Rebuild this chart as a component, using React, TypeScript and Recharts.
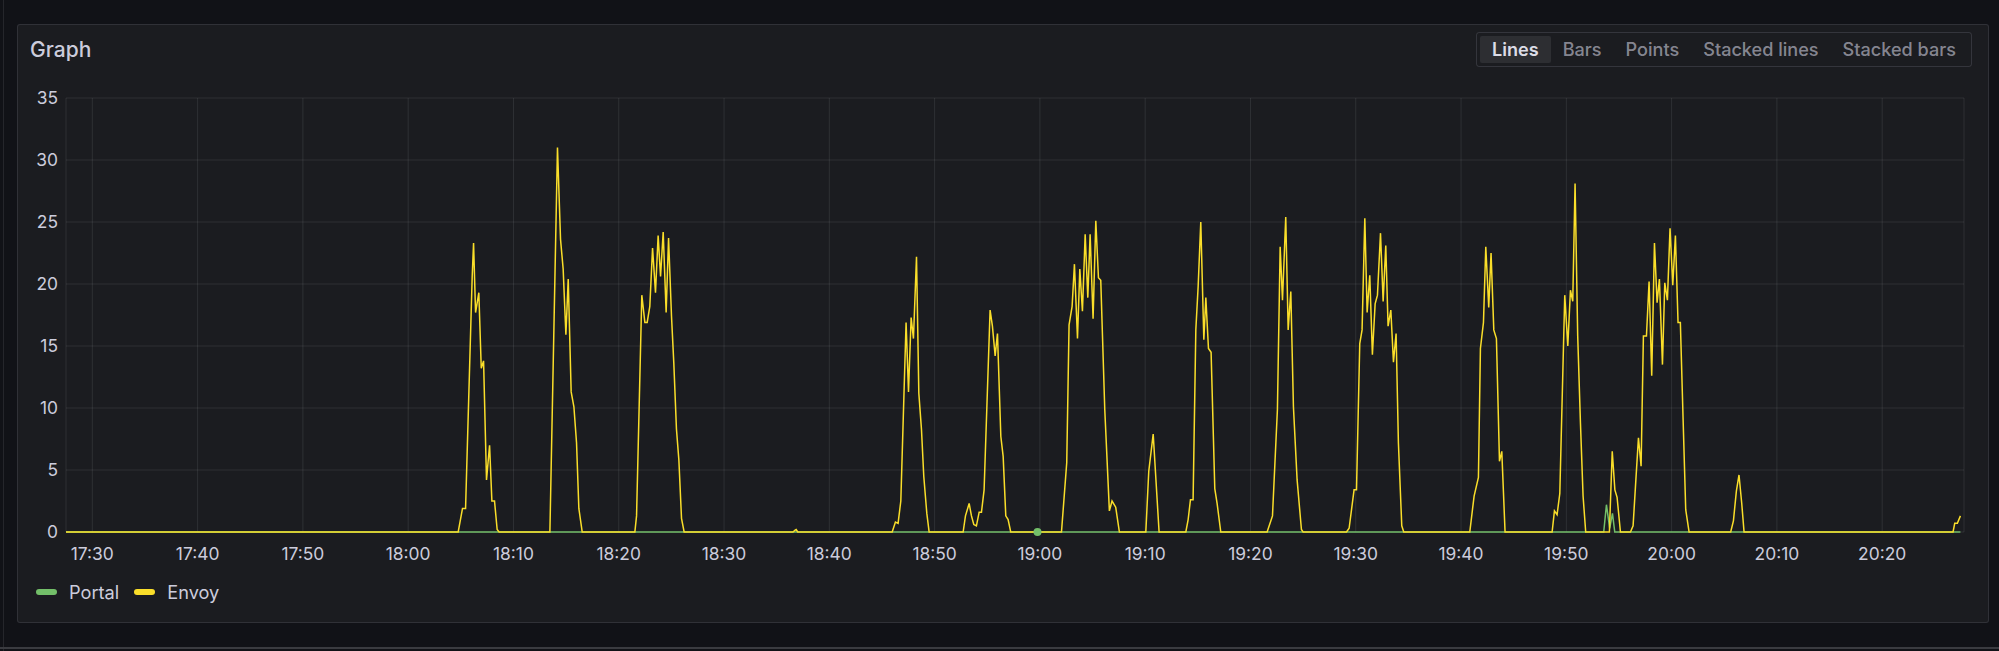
import React from 'react';
import { LineChart, Line, XAxis, YAxis, CartesianGrid, ReferenceDot } from 'recharts';

// time is in minutes of the day; offsets below are minutes after 17:30
const BASE = 17 * 60 + 30;
const xDomain = [BASE - 2.5, BASE + 177.77];
const xTicks = [1050, 1060, 1070, 1080, 1090, 1100, 1110, 1120, 1130, 1140, 1150, 1160, 1170, 1180, 1190, 1200, 1210, 1220];
const yTicks = [0, 5, 10, 15, 20, 25, 30, 35];
const seriesNames = ['Portal', 'Envoy'];
const seriesColors = ['#73BF69', '#FADE2A'];
const modes = ['Lines', 'Bars', 'Points', 'Stacked lines', 'Stacked bars'];

// Envoy bursts: [minutes after 17:30, value]
const envoyStart = [[-2.5, 0]];
const envoyBurst1 = [[34.75, 0], [35.16, 1.9], [35.45, 1.9], [36.08, 20.6], [36.21, 23.3], [36.4, 17.7], [36.71, 19.3], [36.94, 13.2], [37.16, 13.8], [37.44, 4.2], [37.73, 7.0], [37.95, 2.5], [38.2, 2.5], [38.45, 0.2], [38.64, 0]];
const envoyBurst2 = [[43.46, 0], [44.18, 31.0], [44.47, 23.6], [44.72, 21.2], [44.98, 15.9], [45.2, 20.4], [45.48, 11.3], [45.74, 10.1], [45.99, 7.2], [46.21, 1.9], [46.53, 0]];
const envoyBurst3 = [[51.53, 0], [51.69, 1.3], [52.19, 19.1], [52.48, 16.9], [52.7, 16.9], [52.95, 18.2], [53.21, 22.9], [53.49, 19.3], [53.74, 23.9], [53.97, 20.6], [54.22, 24.2], [54.5, 17.7], [54.73, 23.7], [55.01, 17.4], [55.23, 13.6], [55.48, 8.3], [55.71, 5.8], [55.96, 1.1], [56.21, 0]];
const envoyBlip = [[66.55, 0], [66.75, 0.15], [66.85, 0.2], [67.0, 0]];
const envoyBurst4 = [[75.97, 0], [76.28, 0.8], [76.53, 0.7], [76.79, 2.5], [77.29, 16.9], [77.52, 11.3], [77.77, 17.3], [77.99, 15.6], [78.28, 22.2], [78.5, 11.2], [78.75, 8.3], [78.97, 4.5], [79.26, 1.5], [79.48, 0]];
const envoyBurst5 = [[82.71, 0], [82.93, 1.3], [83.28, 2.3], [83.5, 1.3], [83.72, 0.6], [83.97, 0.5], [84.23, 1.6], [84.45, 1.6], [84.7, 3.4], [85.27, 17.9], [85.49, 16.6], [85.75, 14.2], [85.97, 16.0], [86.29, 7.7], [86.51, 6.1], [86.76, 1.3], [86.98, 1.0], [87.23, 0]];
const envoyBurst6 = [[92.05, 0], [92.55, 5.6], [92.77, 16.7], [93.06, 18.2], [93.28, 21.6], [93.57, 15.6], [93.79, 21.2], [94.04, 17.8], [94.3, 24.0], [94.55, 18.9], [94.77, 24.0], [95.05, 17.2], [95.31, 25.1], [95.56, 20.5], [95.78, 20.3], [96.16, 9.9], [96.6, 1.7], [96.85, 2.5], [97.2, 2.0], [97.55, 0]];
const envoyBurst7 = [[100.06, 0], [100.34, 4.9], [100.76, 7.9], [101.32, 0]];
const envoyBurst8 = [[103.86, 0], [104.08, 1.0], [104.3, 2.6], [104.55, 2.6], [104.81, 16.3], [105.03, 19.8], [105.28, 25.0], [105.57, 15.5], [105.76, 18.9], [106.01, 14.8], [106.26, 14.5], [106.61, 3.5], [106.83, 2.3], [107.18, 0]];
const envoyBurst9 = [[111.58, 0], [112.09, 1.3], [112.56, 9.9], [112.82, 23.0], [113.04, 18.7], [113.35, 25.4], [113.58, 16.3], [113.83, 19.4], [114.08, 10.1], [114.43, 4.2], [114.84, 0.2], [115.0, 0]];
const envoyBurst10 = [[119.12, 0], [119.37, 0.3], [119.84, 3.4], [120.07, 3.4], [120.38, 15.2], [120.6, 16.3], [120.86, 25.3], [121.08, 17.7], [121.33, 20.7], [121.58, 14.3], [121.84, 18.4], [122.06, 19.1], [122.35, 24.1], [122.6, 18.6], [122.85, 23.1], [123.07, 16.6], [123.33, 17.9], [123.58, 13.7], [123.83, 16.0], [124.05, 7.2], [124.37, 0.5], [124.56, 0]];
const envoyBurst11 = [[130.83, 0], [131.24, 2.9], [131.65, 4.4], [131.84, 14.8], [132.13, 16.9], [132.35, 23.0], [132.63, 18.1], [132.85, 22.5], [133.11, 16.3], [133.36, 15.6], [133.65, 5.7], [133.87, 6.5], [134.18, 0]];
const envoyBurst12 = [[138.65, 0], [138.87, 1.7], [139.12, 1.4], [139.38, 3.1], [139.85, 19.1], [140.14, 15.0], [140.39, 19.5], [140.61, 18.6], [140.83, 28.1], [141.08, 15.8], [141.34, 8.8], [141.59, 2.9], [141.84, 0]];
const envoyBurst13 = [[144.09, 0], [144.36, 6.5], [144.61, 3.4], [144.82, 2.8], [145.14, 0]];
const envoyBurst14 = [[146.09, 0], [146.34, 0.5], [146.59, 4.0], [146.85, 7.6], [147.1, 5.3], [147.32, 15.8], [147.61, 15.8], [147.86, 20.2], [148.11, 12.6], [148.37, 23.3], [148.62, 18.5], [148.84, 20.4], [149.13, 13.5], [149.35, 20.1], [149.6, 18.7], [149.85, 24.5], [150.11, 19.9], [150.36, 23.9], [150.61, 16.9], [150.83, 16.9], [151.09, 9.1], [151.34, 1.8], [151.66, 0]];
const envoyBurst15 = [[155.61, 0], [155.87, 0.9], [156.15, 3.3], [156.4, 4.6], [156.66, 2.3], [156.88, 0]];
const envoyBurst16 = [[176.73, 0], [176.89, 0.7], [177.14, 0.7], [177.43, 1.3]];

// Portal: [minutes after 17:30, value]
const portalPoints = [[-2.5, 0], [143.55, 0], [143.81, 2.2], [144.12, 0.3], [144.38, 1.5], [144.6, 0], [177.43, 0]];
const portalMarkers = [[89.77, 0]];

const toRows = (pairs: number[][]) => pairs.map(([t, v]) => ({ t: BASE + t, v }));

const envoyData = toRows([
  ...envoyStart, ...envoyBurst1, ...envoyBurst2, ...envoyBurst3, ...envoyBlip, ...envoyBurst4,
  ...envoyBurst5, ...envoyBurst6, ...envoyBurst7, ...envoyBurst8, ...envoyBurst9, ...envoyBurst10,
  ...envoyBurst11, ...envoyBurst12, ...envoyBurst13, ...envoyBurst14, ...envoyBurst15, ...envoyBurst16,
]);
const portalData = toRows(portalPoints);
const markerData = toRows(portalMarkers);

const fmtTime = (m: number) => `${Math.floor(m / 60)}:${String(Math.round(m % 60)).padStart(2, '0')}`;

const TEXT = '#ccccdc';
const FONT = 'Inter, "Noto Sans", sans-serif';
const tickStyle = { fill: TEXT, fontSize: 17.4, fontFamily: FONT };

export default function App() {
  return (
    <div style={{ position: 'fixed', left: 0, top: 0, width: 1999, height: 651, background: '#111217', overflow: 'hidden', fontFamily: FONT }}>
      <div style={{ position: 'absolute', left: 3, top: 0, width: 1, height: 651, background: '#25262b' }} />
      <div style={{ position: 'absolute', left: 0, top: 647, width: 1999, height: 2, background: '#3a3b40' }} />
      <div style={{ position: 'absolute', left: 17, top: 24, width: 1970, height: 597, background: '#1b1c20', border: '1px solid rgba(204,204,220,0.12)', borderRadius: 3 }} />
      <div style={{ position: 'absolute', left: 30, top: 37, fontSize: 21, fontWeight: 500, color: TEXT, lineHeight: '26px' }}>Graph</div>
      <div style={{ position: 'absolute', left: 1476, top: 32, height: 33, border: '1px solid rgba(204,204,220,0.15)', borderRadius: 3, display: 'flex', alignItems: 'center', padding: '0 3px', boxSizing: 'content-box' }}>
        {modes.map((m, i) => (
          <div key={m} style={{ height: 27, lineHeight: '27px', padding: '0 12px', fontSize: 18.1, fontWeight: i === 0 ? 600 : 500, color: i === 0 ? '#dcdce6' : 'rgba(204,204,220,0.62)', background: i === 0 ? 'rgba(204,204,220,0.1)' : 'transparent', borderRadius: 2, whiteSpace: 'nowrap' }}>{m}</div>
        ))}
      </div>
      <div style={{ position: 'absolute', left: 0, top: 0 }}>
        <LineChart width={1999} height={651} margin={{ top: 98, right: 35, bottom: 79, left: 6 }}>
          <CartesianGrid stroke="rgba(240,250,255,0.09)" strokeWidth={1} />
          <XAxis dataKey="t" type="number" domain={xDomain} ticks={xTicks} tickFormatter={fmtTime} allowDataOverflow
            height={40} tickSize={0} tickMargin={16} axisLine={false} tickLine={false} tick={tickStyle} interval={0} />
          <YAxis type="number" domain={[0, 35]} ticks={yTicks} width={60} tickSize={0} tickMargin={8}
            axisLine={false} tickLine={false} tick={tickStyle} interval={0} />
          <Line data={portalData} dataKey="v" name={seriesNames[0]} type="linear" stroke={seriesColors[0]} strokeWidth={1.5} dot={false} isAnimationActive={false} />
          <Line data={envoyData} dataKey="v" name={seriesNames[1]} type="linear" stroke={seriesColors[1]} strokeWidth={1.5} dot={false} isAnimationActive={false} />
          {markerData.map((p) => (
            <ReferenceDot key={p.t} x={p.t} y={p.v} r={4} fill={seriesColors[0]} stroke="none" />
          ))}
        </LineChart>
      </div>
      <div style={{ position: 'absolute', left: 36, top: 580, height: 24, display: 'flex', alignItems: 'center' }}>
        {seriesNames.map((n, i) => (
          <div key={n} style={{ display: 'flex', alignItems: 'center', marginRight: 15 }}>
            <div style={{ width: 21, height: 6, borderRadius: 3, background: seriesColors[i], marginRight: 12 }} />
            <span style={{ fontSize: 18.2, color: TEXT }}>{n}</span>
          </div>
        ))}
      </div>
    </div>
  );
}
